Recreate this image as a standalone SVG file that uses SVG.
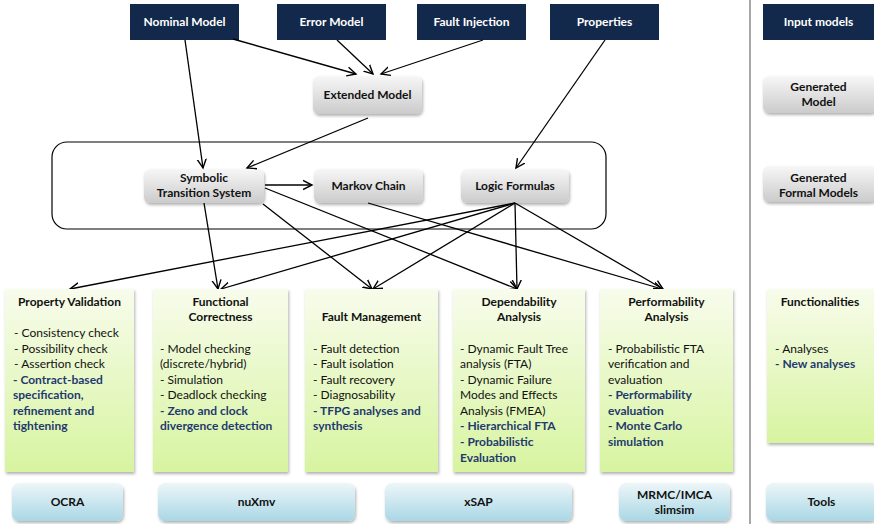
<svg xmlns="http://www.w3.org/2000/svg" width="874" height="524" viewBox="0 0 874 524">
<defs>
<linearGradient id="gGray" x1="0" y1="0" x2="0" y2="1"><stop offset="0" stop-color="#f7f7f7"/><stop offset="1" stop-color="#cbcbcb"/></linearGradient>
<linearGradient id="gGreen" x1="0" y1="0" x2="0" y2="1"><stop offset="0" stop-color="#f8fcec"/><stop offset="1" stop-color="#d7f4a0"/></linearGradient>
<linearGradient id="gBlue" x1="0" y1="0" x2="0" y2="1"><stop offset="0" stop-color="#edf6f9"/><stop offset="1" stop-color="#a9d7e5"/></linearGradient>
<filter id="sh" x="-10%" y="-10%" width="125%" height="130%"><feDropShadow dx="1" dy="2" stdDeviation="1.5" flood-color="#000" flood-opacity="0.3"/></filter>
<marker id="arr" markerUnits="userSpaceOnUse" markerWidth="12" markerHeight="12" refX="9" refY="5" orient="auto" viewBox="0 0 12 10"><path d="M0,0.5 L9,5 L0,9.5" fill="none" stroke="#000" stroke-width="1.4"/></marker>
</defs>
<style>
text{font-family:Lato,"Open Sans","Liberation Sans",sans-serif;font-size:12px;fill:#111}
.b{font-weight:bold}
.c{text-anchor:middle}
.w{fill:#fff;font-weight:bold}
.blue{fill:#1f3a6e;font-weight:bold}
.dark{fill:#13294b}
.gray{fill:url(#gGray);filter:url(#sh)}
.green{fill:url(#gGreen);filter:url(#sh)}
.tool{fill:url(#gBlue);filter:url(#sh)}
.ln{stroke:#000;stroke-width:1.3;fill:none;marker-end:url(#arr)}
</style>
<rect width="874" height="524" fill="#fff"/>
<line x1="750" y1="0" x2="750" y2="524" stroke="#8a8a8a" stroke-width="1.5"/>
<rect x="52" y="142" width="554" height="87" rx="15" fill="none" stroke="#000" stroke-width="1.2"/>

<g id="nominal"><rect class="dark" x="130" y="4" width="109" height="36"/><text class="w c" x="184.5" y="26">Nominal Model</text></g>
<g id="error"><rect class="dark" x="277" y="4" width="109" height="36"/><text class="w c" x="331.5" y="26">Error Model</text></g>
<g id="fault"><rect class="dark" x="417" y="4" width="109" height="36"/><text class="w c" x="471.5" y="26">Fault Injection</text></g>
<g id="properties"><rect class="dark" x="550" y="4" width="109" height="36"/><text class="w c" x="604.5" y="26">Properties</text></g>
<g id="input"><rect class="dark" x="763" y="4" width="111" height="36"/><text class="w c" x="818.5" y="26">Input models</text></g>

<g id="extended"><rect class="gray" x="313" y="76" width="109" height="38" rx="6"/><text class="b c" x="367.5" y="99">Extended Model</text></g>
<g id="genmodel"><rect class="gray" x="763" y="76" width="113" height="37" rx="6"/><text class="b c" x="818.5" y="91">Generated</text><text class="b c" x="818.5" y="106">Model</text></g>

<g id="sts"><rect class="gray" x="144" y="169" width="120" height="34" rx="6"/><text class="b c" x="204" y="182">Symbolic</text><text class="b c" x="204" y="197">Transition System</text></g>
<g id="markov"><rect class="gray" x="314" y="169" width="109" height="34" rx="6"/><text class="b c" x="368.5" y="190">Markov Chain</text></g>
<g id="logic"><rect class="gray" x="461" y="169" width="108" height="34" rx="6"/><text class="b c" x="515" y="190">Logic Formulas</text></g>
<g id="genformal"><rect class="gray" x="763" y="166" width="113" height="36" rx="6"/><text class="b c" x="818.5" y="182">Generated</text><text class="b c" x="818.5" y="197">Formal Models</text></g>

<g id="connectors">
<line class="ln" x1="185" y1="40" x2="203" y2="168"/>
<line class="ln" x1="233" y1="39" x2="356" y2="74"/>
<line class="ln" x1="337" y1="40" x2="373" y2="74"/>
<line class="ln" x1="483" y1="40" x2="381" y2="74"/>
<line class="ln" x1="368" y1="118" x2="247" y2="168"/>
<line class="ln" x1="605" y1="40" x2="516" y2="168"/>
<line class="ln" x1="265" y1="185" x2="312" y2="185"/>
<line class="ln" x1="204" y1="203" x2="218" y2="289"/>
<line class="ln" x1="263" y1="204" x2="372" y2="289"/>
<line class="ln" x1="265" y1="188" x2="517" y2="289"/>
<line class="ln" x1="368" y1="203" x2="662" y2="289"/>
<line class="ln" x1="515" y1="203" x2="70" y2="289"/>
<line class="ln" x1="515" y1="203" x2="221" y2="289"/>
<line class="ln" x1="515" y1="203" x2="373" y2="289"/>
<line class="ln" x1="515" y1="203" x2="517" y2="289"/>
<line class="ln" x1="515" y1="203" x2="663" y2="289"/>
</g>

<g id="pv"><rect class="green" x="5" y="289" width="129" height="183"/>
<text class="b c" x="69.5" y="306">Property Validation</text>
<text x="14" y="337">- Consistency check</text>
<text x="14" y="352.5">- Possibility check</text>
<text x="14" y="368">- Assertion check</text>
<text class="blue" x="13" y="384">- Contract-based</text>
<text class="blue" x="13" y="399">specification,</text>
<text class="blue" x="13" y="414.5">refinement and</text>
<text class="blue" x="13" y="430">tightening</text>
</g>
<g id="fc"><rect class="green" x="153" y="289" width="135" height="183"/>
<text class="b c" x="220.5" y="306">Functional</text>
<text class="b c" x="220.5" y="321">Correctness</text>
<text x="160" y="352.5">- Model checking</text>
<text x="160" y="368">(discrete/hybrid)</text>
<text x="160" y="384">- Simulation</text>
<text x="160" y="399">- Deadlock checking</text>
<text class="blue" x="160" y="414.5">- Zeno and clock</text>
<text class="blue" x="160" y="430">divergence detection</text>
</g>
<g id="fm"><rect class="green" x="305" y="289" width="133" height="183"/>
<text class="b c" x="371.5" y="321">Fault Management</text>
<text x="313" y="352.5">- Fault detection</text>
<text x="313" y="368">- Fault isolation</text>
<text x="313" y="384">- Fault recovery</text>
<text x="313" y="399">- Diagnosability</text>
<text class="blue" x="313" y="414.5">- TFPG analyses and</text>
<text class="blue" x="313" y="430">synthesis</text>
</g>
<g id="da"><rect class="green" x="453" y="289" width="132" height="183"/>
<text class="b c" x="519" y="306">Dependability</text>
<text class="b c" x="519" y="321">Analysis</text>
<text x="460" y="352.5">- Dynamic Fault Tree</text>
<text x="460" y="368">analysis (FTA)</text>
<text x="460" y="384">- Dynamic Failure</text>
<text x="460" y="399">Modes and Effects</text>
<text x="460" y="414.5">Analysis (FMEA)</text>
<text class="blue" x="460" y="430">- Hierarchical FTA</text>
<text class="blue" x="460" y="446">- Probabilistic</text>
<text class="blue" x="460" y="461.5">Evaluation</text>
</g>
<g id="pa"><rect class="green" x="600" y="289" width="133" height="183"/>
<text class="b c" x="666.5" y="306">Performability</text>
<text class="b c" x="666.5" y="321">Analysis</text>
<text x="608" y="352.5">- Probabilistic FTA</text>
<text x="608" y="368">verification and</text>
<text x="608" y="384">evaluation</text>
<text class="blue" x="608" y="399">- Performability</text>
<text class="blue" x="608" y="414.5">evaluation</text>
<text class="blue" x="608" y="430">- Monte Carlo</text>
<text class="blue" x="608" y="446">simulation</text>
</g>
<g id="func"><rect class="green" x="767" y="289" width="110" height="154"/>
<text class="b c" x="820" y="306">Functionalities</text>
<text x="775" y="352.5">- Analyses</text>
<text class="blue" x="775" y="368">- New analyses</text>
</g>

<g id="ocra"><rect class="tool" x="12" y="483" width="111" height="38" rx="7"/><text class="b c" x="67.5" y="506">OCRA</text></g>
<g id="nuxmv"><rect class="tool" x="158" y="483" width="197" height="38" rx="7"/><text class="b c" x="256.5" y="506">nuXmv</text></g>
<g id="xsap"><rect class="tool" x="385" y="483" width="187" height="38" rx="7"/><text class="b c" x="478.5" y="506">xSAP</text></g>
<g id="mrmc"><rect class="tool" x="619" y="483" width="111" height="38" rx="7"/><text class="b c" x="674.5" y="499">MRMC/IMCA</text><text class="b c" x="674.5" y="514">slimsim</text></g>
<g id="tools"><rect class="tool" x="766" y="483" width="111" height="38" rx="7"/><text class="b c" x="821.5" y="506">Tools</text></g>
</svg>
